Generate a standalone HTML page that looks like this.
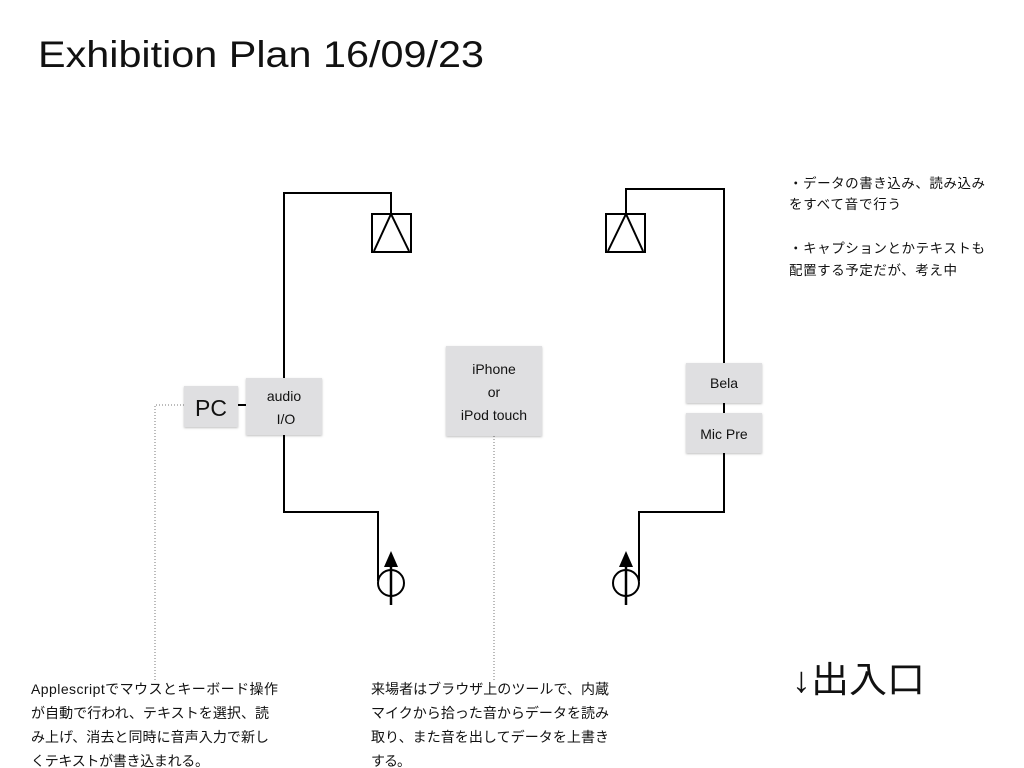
<!DOCTYPE html>
<html><head><meta charset="utf-8"><style>
html,body{margin:0;padding:0;background:#fff;}
svg{display:block}
text{font-family:"Liberation Sans","Noto Sans CJK JP",sans-serif;fill:#111}
</style></head><body>
<svg width="1024" height="768" viewBox="0 0 1024 768" xmlns="http://www.w3.org/2000/svg">
<defs><filter id="sh" x="-10%" y="-10%" width="130%" height="130%"><feDropShadow dx="0" dy="1" stdDeviation="1" flood-color="#000" flood-opacity="0.25"/></filter></defs>
<text x="38" y="67" font-size="37" textLength="446" lengthAdjust="spacingAndGlyphs">Exhibition Plan 16/09/23</text>

<g fill="none" stroke="#000" stroke-width="2">
<polyline points="284,378 284,193 391,193 391,214"/>
<rect x="372" y="214" width="39" height="38"/>
<polyline points="374,251 391,214 409,251"/>
<polyline points="284,435 284,512 378,512 378,581"/>
<circle cx="391" cy="583" r="13"/>
<line x1="391" y1="560" x2="391" y2="605" stroke-width="2.5"/>
<line x1="234" y1="405" x2="252" y2="405"/>
<polyline points="724,363 724,189 626,189 626,214"/>
<rect x="606" y="214" width="39" height="38"/>
<polyline points="608,251 626,214 643,251"/>
<line x1="724" y1="403" x2="724" y2="413"/>
<polyline points="724,453 724,512 639,512 639,581"/>
<circle cx="626" cy="583" r="13"/>
<line x1="626" y1="560" x2="626" y2="605" stroke-width="2.5"/>
</g>
<polygon points="391,551 384,567 398,567" fill="#000"/>
<polygon points="626,551 619,567 633,567" fill="#000"/>

<g fill="none" stroke="#777" stroke-width="1" stroke-dasharray="1,2">
<polyline points="184,405 155,405 155,680"/>
<line x1="494" y1="436" x2="494" y2="680"/>
</g>

<g fill="#dfdfe1" filter="url(#sh)">
<rect x="184" y="386" width="54" height="41"/>
<rect x="246" y="378" width="76" height="57"/>
<rect x="446" y="346" width="96" height="90"/>
<rect x="686" y="363" width="76" height="40"/>
<rect x="686" y="413" width="76" height="40"/>
</g>
<text x="211" y="416" font-size="23" text-anchor="middle">PC</text>
<text x="284" y="401" font-size="14" text-anchor="middle">audio</text>
<text x="286" y="424" font-size="14" text-anchor="middle">I/O</text>
<text x="494" y="374" font-size="14" text-anchor="middle">iPhone</text>
<text x="494" y="397" font-size="14" text-anchor="middle">or</text>
<text x="494" y="420" font-size="14" text-anchor="middle">iPod touch</text>
<text x="724" y="388" font-size="14" text-anchor="middle">Bela</text>
<text x="724" y="439" font-size="14" text-anchor="middle">Mic Pre</text>

<g font-size="13.5">
<text x="789" y="188" textLength="196" lengthAdjust="spacing">・データの書き込み、読み込み</text>
<text x="789" y="209" textLength="112" lengthAdjust="spacing">をすべて音で行う</text>
<text x="789" y="253" textLength="196" lengthAdjust="spacing">・キャプションとかテキストも</text>
<text x="789" y="275" textLength="168" lengthAdjust="spacing">配置する予定だが、考え中</text>
</g>
<g font-size="14">
<text x="31" y="694" textLength="247" lengthAdjust="spacing">Applescriptでマウスとキーボード操作</text>
<text x="31" y="718" textLength="238" lengthAdjust="spacing">が自動で行われ、テキストを選択、読</text>
<text x="31" y="742" textLength="238" lengthAdjust="spacing">み上げ、消去と同時に音声入力で新し</text>
<text x="31" y="766" textLength="178" lengthAdjust="spacing">くテキストが書き込まれる。</text>
<text x="371" y="694" textLength="238" lengthAdjust="spacing">来場者はブラウザ上のツールで、内蔵</text>
<text x="371" y="718" textLength="238" lengthAdjust="spacing">マイクから拾った音からデータを読み</text>
<text x="371" y="742" textLength="238" lengthAdjust="spacing">取り、また音を出してデータを上書き</text>
<text x="371" y="766" textLength="40" lengthAdjust="spacing">する。</text>
</g>
<text x="792" y="692" font-size="36" textLength="133" lengthAdjust="spacingAndGlyphs">↓出入口</text>
</svg>
</body></html>
